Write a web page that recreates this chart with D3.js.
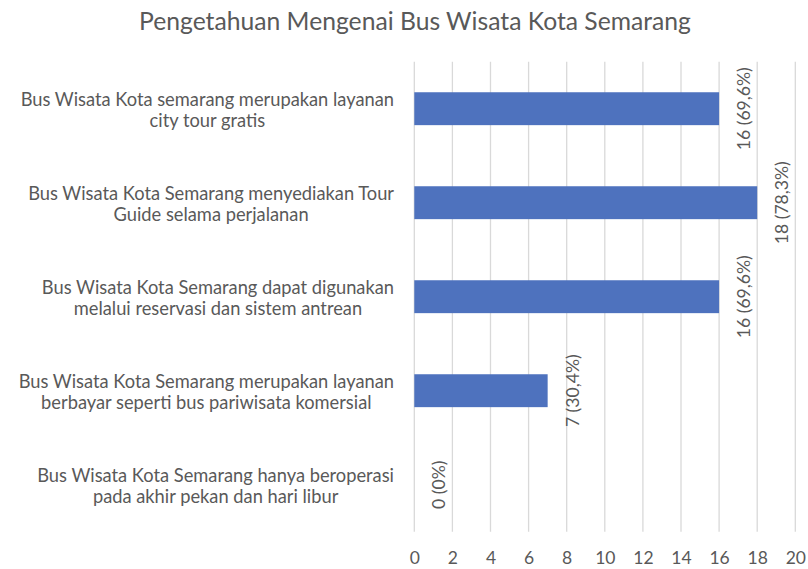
<!DOCTYPE html>
<html>
<head>
<meta charset="utf-8">
<script src="https://cdn.jsdelivr.net/npm/d3@7"></script>
<style>
  html, body { margin: 0; padding: 0; background: #fff; }
  svg { display: block; font-family: Lato, "Open Sans", sans-serif; }
</style>
</head>
<body>
<svg id="chart" width="808" height="569"></svg>
<script>
const title = "Pengetahuan Mengenai Bus Wisata Kota Semarang";
const categories = [
  ["Bus Wisata Kota semarang merupakan layanan", "city tour gratis"],
  ["Bus Wisata Kota Semarang menyediakan Tour", "Guide selama perjalanan"],
  ["Bus Wisata Kota Semarang dapat digunakan", "melalui reservasi dan sistem antrean"],
  ["Bus Wisata Kota Semarang merupakan layanan", "berbayar seperti bus pariwisata komersial"],
  ["Bus Wisata Kota Semarang hanya beroperasi", "pada akhir pekan dan hari libur"]
];
const values = [16, 18, 16, 7, 0];
const valueLabels = ["16 (69,6%)", "18 (78,3%)", "16 (69,6%)", "7 (30,4%)", "0 (0%)"];
const xTicks = [0, 2, 4, 6, 8, 10, 12, 14, 16, 18, 20];

const svg = d3.select("#chart");
const textColor = "#595959";
const plot = { left: 414.3, right: 795.3, top: 61.7, bottom: 531.7 };

const x = d3.scaleLinear().domain([0, 20]).range([plot.left, plot.right]);
const y = d3.scaleBand().domain(d3.range(categories.length))
  .range([plot.top, plot.bottom]).paddingInner(0.65).paddingOuter(0.325);

// title
svg.append("text")
  .attr("x", 415).attr("y", 30)
  .attr("text-anchor", "middle")
  .attr("fill", textColor)
  .style("font-size", "24.7px")
  .text(title);

// gridlines
svg.append("g").selectAll("line").data(xTicks).join("line")
  .attr("x1", d => x(d)).attr("x2", d => x(d))
  .attr("y1", plot.top).attr("y2", plot.bottom)
  .attr("stroke", "#d9d9d9").attr("stroke-width", 1.3);

// x axis labels
const xAxis = d3.axisBottom(x).tickValues(xTicks).tickSize(0).tickPadding(0);
const gx = svg.append("g").attr("transform", `translate(0, ${plot.bottom})`).call(xAxis);
gx.select(".domain").remove();
gx.selectAll("text")
  .attr("fill", textColor)
  .attr("dy", null)
  .attr("y", 32)
  .style("font-size", "17.5px")
  .style("font-family", "Lato, 'Open Sans', sans-serif");

// bars
svg.append("g").selectAll("rect").data(values).join("rect")
  .attr("x", x(0))
  .attr("y", (d, i) => y(i))
  .attr("width", d => x(d) - x(0))
  .attr("height", y.bandwidth())
  .attr("fill", "#4e72be");

// value labels (rotated)
svg.append("g").selectAll("text").data(values).join("text")
  .attr("transform", (d, i) => `translate(${x(d) + 31}, ${y(i) + y.bandwidth() / 2}) rotate(-90)`)
  .attr("text-anchor", "middle")
  .attr("fill", textColor)
  .style("font-size", "17.6px")
  .text((d, i) => valueLabels[i]);

// category labels
const labelRight = 394;
const catG = svg.append("g");
categories.forEach((lines, i) => {
  const cy = y(i) + y.bandwidth() / 2;
  const g = catG.append("g");
  const texts = lines.map((line, j) =>
    g.append("text")
      .attr("y", cy - 3 + j * 21)
      .attr("text-anchor", "middle")
      .attr("fill", textColor)
      .style("font-size", "18.3px")
      .text(line)
  );
  const maxW = d3.max(texts, t => t.node().getComputedTextLength());
  texts.forEach(t => t.attr("x", labelRight - maxW / 2));
});
</script>
</body>
</html>
